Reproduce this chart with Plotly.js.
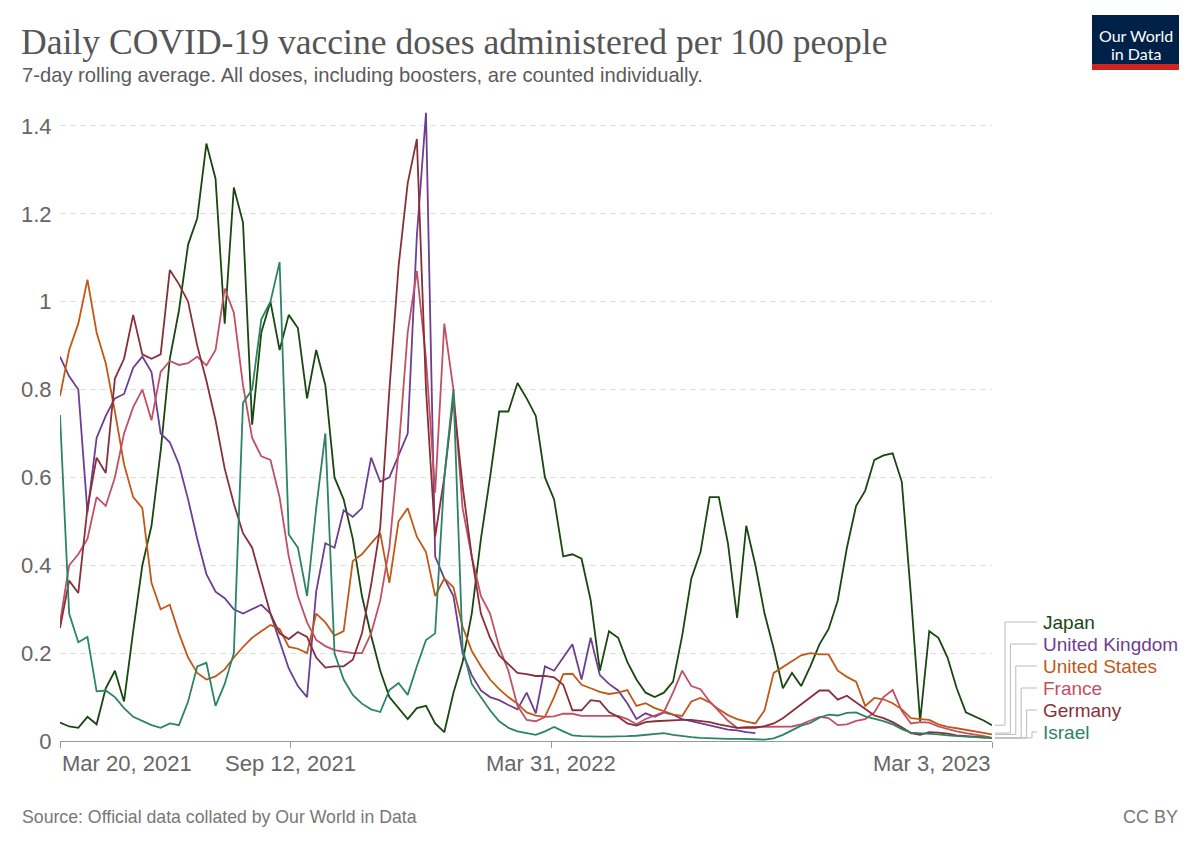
<!DOCTYPE html>
<html>
<head>
<meta charset="utf-8">
<script src="https://cdn.plot.ly/plotly-3.0.1.min.js"></script>
<style>
  html, body { margin: 0; padding: 0; background: #fff; }
  #chart { width: 1200px; height: 847px; }
</style>
</head>
<body>
<div id="chart"></div>
<script>
// weekly sample dates (7-day rolling averages)
const dates = [
  '2021-03-20','2021-03-27','2021-04-03','2021-04-10','2021-04-17','2021-04-24','2021-05-01','2021-05-08','2021-05-15','2021-05-22',
  '2021-05-29','2021-06-05','2021-06-12','2021-06-19','2021-06-26','2021-07-03','2021-07-10','2021-07-17','2021-07-24','2021-07-31',
  '2021-08-07','2021-08-14','2021-08-21','2021-08-28','2021-09-04','2021-09-11','2021-09-18','2021-09-25','2021-10-02','2021-10-09',
  '2021-10-16','2021-10-23','2021-10-30','2021-11-06','2021-11-13','2021-11-20','2021-11-27','2021-12-04','2021-12-11','2021-12-18',
  '2021-12-25','2022-01-01','2022-01-08','2022-01-15','2022-01-22','2022-01-29','2022-02-05','2022-02-12','2022-02-19','2022-02-26',
  '2022-03-05','2022-03-12','2022-03-19','2022-03-26','2022-04-02','2022-04-09','2022-04-16','2022-04-23','2022-04-30','2022-05-07',
  '2022-05-14','2022-05-21','2022-05-28','2022-06-04','2022-06-11','2022-06-18','2022-06-25','2022-07-02','2022-07-09','2022-07-16',
  '2022-07-23','2022-07-30','2022-08-06','2022-08-13','2022-08-20','2022-08-27','2022-09-03','2022-09-10','2022-09-17','2022-09-24',
  '2022-10-01','2022-10-08','2022-10-15','2022-10-22','2022-10-29','2022-11-05','2022-11-12','2022-11-19','2022-11-26','2022-12-03',
  '2022-12-10','2022-12-17','2022-12-24','2022-12-31','2023-01-07','2023-01-14','2023-01-21','2023-01-28','2023-02-04','2023-02-11',
  '2023-02-18','2023-02-25','2023-03-03'
];

const japan = [
  0.042, 0.033, 0.03, 0.055, 0.038, 0.12, 0.16, 0.09, 0.25, 0.40,
  0.49, 0.66, 0.87, 0.98, 1.13, 1.19, 1.36, 1.28, 0.95, 1.26,
  1.18, 0.72, 0.93, 1.0, 0.89, 0.97, 0.94, 0.78, 0.89, 0.81,
  0.60, 0.55, 0.46, 0.33, 0.24, 0.16, 0.10, 0.075, 0.05, 0.075,
  0.08, 0.04, 0.02, 0.11, 0.18, 0.29, 0.46, 0.60, 0.75, 0.75,
  0.815, 0.78, 0.74, 0.60, 0.55, 0.42, 0.425, 0.415, 0.32, 0.16,
  0.25, 0.235, 0.18, 0.14, 0.11, 0.10, 0.11, 0.135, 0.24, 0.37,
  0.43, 0.555, 0.555, 0.45, 0.28, 0.49, 0.40, 0.29, 0.21, 0.12,
  0.155, 0.125, 0.17, 0.22, 0.255, 0.32, 0.44, 0.535, 0.57, 0.64,
  0.65, 0.655, 0.59, 0.33, 0.045, 0.25, 0.235, 0.19, 0.12, 0.065,
  0.056, 0.046, 0.036
];

const uk = [
  0.875, 0.83, 0.80, 0.52, 0.69, 0.74, 0.78, 0.79, 0.85, 0.875,
  0.84, 0.70, 0.68, 0.63, 0.55, 0.46, 0.38, 0.34, 0.325, 0.30,
  0.29, 0.30, 0.31, 0.29, 0.23, 0.165, 0.125, 0.10, 0.34, 0.45,
  0.44, 0.525, 0.51, 0.53, 0.645, 0.59, 0.60, 0.65, 0.70, 1.15,
  1.43, 0.42, 0.37, 0.33, 0.20, 0.15, 0.115, 0.10, 0.093, 0.082,
  0.072, 0.11, 0.063, 0.17, 0.16, 0.19, 0.22, 0.14, 0.235, 0.15,
  0.13, 0.115, 0.086, 0.05, 0.063, 0.055, 0.065, 0.06, 0.05, 0.045,
  0.04, 0.035, 0.03, 0.026, 0.024, 0.02, 0.018, null, null, null,
  null, null, null, null, null, null, null, null, null, null,
  null, null, null, null, null, null, null, null, null, null,
  null, null, null
];

const us = [
  0.785, 0.89, 0.95, 1.05, 0.93, 0.86, 0.75, 0.63, 0.555, 0.53,
  0.36, 0.30, 0.31, 0.245, 0.19, 0.155, 0.14, 0.147, 0.163, 0.19,
  0.214, 0.235, 0.25, 0.264, 0.255, 0.214, 0.21, 0.20, 0.29, 0.27,
  0.24, 0.25, 0.41, 0.425, 0.45, 0.473, 0.36, 0.50, 0.53, 0.465,
  0.43, 0.33, 0.37, 0.35, 0.26, 0.205, 0.17, 0.14, 0.118, 0.10,
  0.085, 0.065, 0.058, 0.055, 0.10, 0.152, 0.153, 0.128, 0.12, 0.112,
  0.107, 0.11, 0.116, 0.08, 0.086, 0.075, 0.068, 0.06, 0.057, 0.09,
  0.098, 0.088, 0.072, 0.059, 0.05, 0.044, 0.04, 0.07, 0.155, 0.168,
  0.183, 0.195, 0.2, 0.197, 0.197, 0.16, 0.146, 0.135, 0.08, 0.098,
  0.095, 0.086, 0.072, 0.052, 0.05, 0.048, 0.038, 0.032, 0.029, 0.025,
  0.021, 0.018, 0.015
];

const france = [
  0.27, 0.40, 0.425, 0.46, 0.555, 0.535, 0.60, 0.70, 0.76, 0.80,
  0.73, 0.84, 0.865, 0.856, 0.86, 0.875, 0.855, 0.89, 1.03, 0.975,
  0.81, 0.69, 0.648, 0.64, 0.555, 0.42, 0.33, 0.27, 0.23, 0.216,
  0.207, 0.203, 0.20, 0.20, 0.245, 0.32, 0.44, 0.66, 0.93, 1.07,
  0.87, 0.565, 0.95, 0.80, 0.53, 0.42, 0.33, 0.29, 0.214, 0.16,
  0.08, 0.048, 0.045, 0.055, 0.056, 0.062, 0.062, 0.057, 0.057, 0.057,
  0.057, 0.057, 0.05, 0.038, 0.05, 0.058, 0.066, 0.11, 0.16, 0.125,
  0.118, 0.09, 0.068, 0.046, 0.03, 0.032, 0.032, 0.032, 0.032, 0.032,
  0.033, 0.038, 0.046, 0.055, 0.052, 0.036, 0.038, 0.046, 0.05, 0.065,
  0.10, 0.116, 0.068, 0.04, 0.043, 0.042, 0.033, 0.027, 0.022, 0.018,
  0.015, 0.011, 0.007
];

const germany = [
  0.257, 0.365, 0.337, 0.53, 0.645, 0.61, 0.825, 0.87, 0.97, 0.88,
  0.87, 0.88, 1.072, 1.04, 1.0, 0.9, 0.82, 0.73, 0.62, 0.54,
  0.473, 0.44, 0.365, 0.29, 0.245, 0.232, 0.248, 0.237, 0.19, 0.167,
  0.17, 0.17, 0.185, 0.245, 0.355, 0.487, 0.80, 1.08, 1.27, 1.37,
  0.80, 0.465, 0.60, 0.78, 0.58, 0.42, 0.29, 0.235, 0.195, 0.175,
  0.155, 0.152, 0.148, 0.148, 0.145, 0.128, 0.07, 0.07, 0.093, 0.09,
  0.066, 0.055, 0.04, 0.035, 0.043, 0.045, 0.046, 0.048, 0.048, 0.048,
  0.046, 0.043, 0.038, 0.034, 0.03, 0.03, 0.03, 0.034, 0.04, 0.052,
  0.068, 0.083, 0.098, 0.115, 0.115, 0.094, 0.103, 0.088, 0.075, 0.058,
  0.052, 0.043, 0.031, 0.018, 0.014, 0.02, 0.019, 0.017, 0.013, 0.011,
  0.009, 0.008, 0.007
];

const israel = [
  0.742, 0.29, 0.225, 0.237, 0.113, 0.115, 0.10, 0.075, 0.055, 0.045,
  0.036, 0.03, 0.04, 0.036, 0.09, 0.17, 0.178, 0.08, 0.13, 0.20,
  0.77, 0.80, 0.96, 1.0, 1.09, 0.47, 0.44, 0.33, 0.53, 0.70,
  0.20, 0.14, 0.105, 0.085, 0.072, 0.066, 0.116, 0.132, 0.105, 0.17,
  0.23, 0.245, 0.60, 0.80, 0.21, 0.13, 0.10, 0.07, 0.045, 0.03,
  0.022, 0.018, 0.014, 0.022, 0.032, 0.022, 0.013, 0.011, 0.01, 0.01,
  0.01, 0.01, 0.011, 0.012, 0.014, 0.016, 0.018, 0.014, 0.011, 0.009,
  0.007, 0.006, 0.006, 0.005, 0.005, 0.005, 0.004, 0.003, 0.006, 0.014,
  0.025, 0.035, 0.041, 0.053, 0.06, 0.058, 0.064, 0.065, 0.056, 0.051,
  0.045, 0.038, 0.027, 0.019, 0.018, 0.017, 0.015, 0.013, 0.011, 0.01,
  0.009, 0.008, 0.007
];

const countries = ['Japan', 'United Kingdom', 'United States', 'France', 'Germany', 'Israel'];
const seriesList = [japan, uk, us, france, germany, israel];
const colors = ['#18470F', '#6D3E91', '#C05917', '#C15065', '#883039', '#2C8465'];

const tickDates = ['2021-03-20', '2021-09-12', '2022-03-31', '2023-03-03'];
const tickLabels = ['Mar 20, 2021', 'Sep 12, 2021', 'Mar 31, 2022', 'Mar 3, 2023'];
const tickAnchors = ['left', 'center', 'center', 'right'];

const yTicks = [0, 0.2, 0.4, 0.6, 0.8, 1, 1.2, 1.4];
const Y_MAX = 1.45;

const SANS = 'Liberation Sans, Arial, sans-serif';

// pixel helpers for the surrounding furniture (plot area 60..992 x 104..741)
const PL = 60, PR = 992, PT = 104, PB = 741;
const px = X => (X - PL) / (PR - PL);
const py = Y => (PB - Y) / (PB - PT);

const traces = countries.map((name, i) => ({
  x: dates, y: seriesList[i],
  type: 'scatter', mode: 'lines',
  name: name,
  line: { color: colors[i], width: 1.8 },
  hovertemplate: name + ': %{y:.2f}<extra></extra>',
}));

const annotations = [];
const shapes = [];

tickDates.forEach((d, i) => {
  annotations.push({
    x: d, xref: 'x', y: py(764), yref: 'paper',
    text: tickLabels[i], showarrow: false,
    xanchor: tickAnchors[i], yanchor: 'middle',
    font: { family: SANS, size: 22, color: '#666' },
  });
});

// end-of-line labels with elbow connectors
countries.forEach((name, i) => {
  const labelY = 622 + i * 22;
  const vx = 1005 + i * 5.4;
  const series = seriesList[i];
  let last = null;
  for (let k = series.length - 1; k >= 0; k--) {
    if (series[k] !== null) { last = series[k]; break; }
  }
  const endY = last / Y_MAX;
  shapes.push({
    type: 'path', xref: 'paper', yref: 'paper',
    path: `M ${px(995)} ${endY} L ${px(vx)} ${endY} L ${px(vx)} ${py(labelY)} L ${px(1037)} ${py(labelY)}`,
    line: { color: '#bbb', width: 1 },
  });
  annotations.push({
    x: px(1041), xref: 'paper', y: py(labelY), yref: 'paper',
    text: name, showarrow: false, xanchor: 'left', yanchor: 'middle',
    font: { family: SANS, size: 19, color: colors[i] },
  });
});

// subtitle, source, licence
annotations.push({
  x: px(20), xref: 'paper', y: py(75), yref: 'paper',
  text: '7-day rolling average. All doses, including boosters, are counted individually.',
  showarrow: false, xanchor: 'left', yanchor: 'middle',
  font: { family: SANS, size: 20.2, color: '#5b5b5b' },
});
annotations.push({
  x: px(20), xref: 'paper', y: py(817), yref: 'paper',
  text: 'Source: Official data collated by Our World in Data',
  showarrow: false, xanchor: 'left', yanchor: 'middle',
  font: { family: SANS, size: 17.7, color: '#777' },
});
annotations.push({
  x: px(1180), xref: 'paper', y: py(817), yref: 'paper',
  text: 'CC BY', showarrow: false, xanchor: 'right', yanchor: 'middle',
  font: { family: SANS, size: 18, color: '#777' },
});

// logo
shapes.push({
  type: 'rect', xref: 'paper', yref: 'paper',
  x0: px(1092), x1: px(1179), y0: py(64), y1: py(15),
  fillcolor: '#002147', line: { width: 0 },
});
shapes.push({
  type: 'rect', xref: 'paper', yref: 'paper',
  x0: px(1092), x1: px(1179), y0: py(70), y1: py(64),
  fillcolor: '#CE261E', line: { width: 0 },
});
annotations.push({
  x: px(1135.5), xref: 'paper', y: py(36), yref: 'paper',
  text: 'Our World', showarrow: false, xanchor: 'center', yanchor: 'middle',
  font: { family: 'Lato', size: 16, color: '#fff' },
});
annotations.push({
  x: px(1135.5), xref: 'paper', y: py(53), yref: 'paper',
  text: 'in Data', showarrow: false, xanchor: 'center', yanchor: 'middle',
  font: { family: 'Lato', size: 16, color: '#fff' },
});

const layout = {
  width: 1200, height: 847,
  margin: { l: PL, r: 1200 - PR, t: PT, b: 847 - PB },
  paper_bgcolor: '#fff', plot_bgcolor: '#fff',
  showlegend: false,
  title: {
    text: 'Daily COVID-19 vaccine doses administered per 100 people',
    xref: 'container', yref: 'container',
    x: 21 / 1200, xanchor: 'left',
    y: 1 - 42 / 847, yanchor: 'middle',
    font: { family: 'Liberation Serif', size: 35.6, color: '#555' },
  },
  xaxis: {
    type: 'date',
    range: ['2021-03-20', '2023-03-03'],
    showgrid: false, zeroline: false,
    showline: true, linecolor: '#999', linewidth: 1,
    tickvals: tickDates, showticklabels: false,
    ticks: 'outside', ticklen: 6, tickcolor: '#999',
    fixedrange: true,
  },
  yaxis: {
    range: [0, Y_MAX],
    tickvals: yTicks,
    ticktext: yTicks.map(v => String(v)),
    showgrid: true, gridcolor: '#ddd', griddash: '6px,4px', gridwidth: 1,
    zeroline: false, showline: false,
    ticks: 'outside', ticklen: 3, tickcolor: 'rgba(0,0,0,0)',
    tickfont: { family: SANS, size: 22, color: '#666' },
    fixedrange: true,
  },
  shapes: shapes,
  annotations: annotations,
};

Plotly.newPlot('chart', traces, layout, { displayModeBar: false, responsive: false });
</script>
</body>
</html>
